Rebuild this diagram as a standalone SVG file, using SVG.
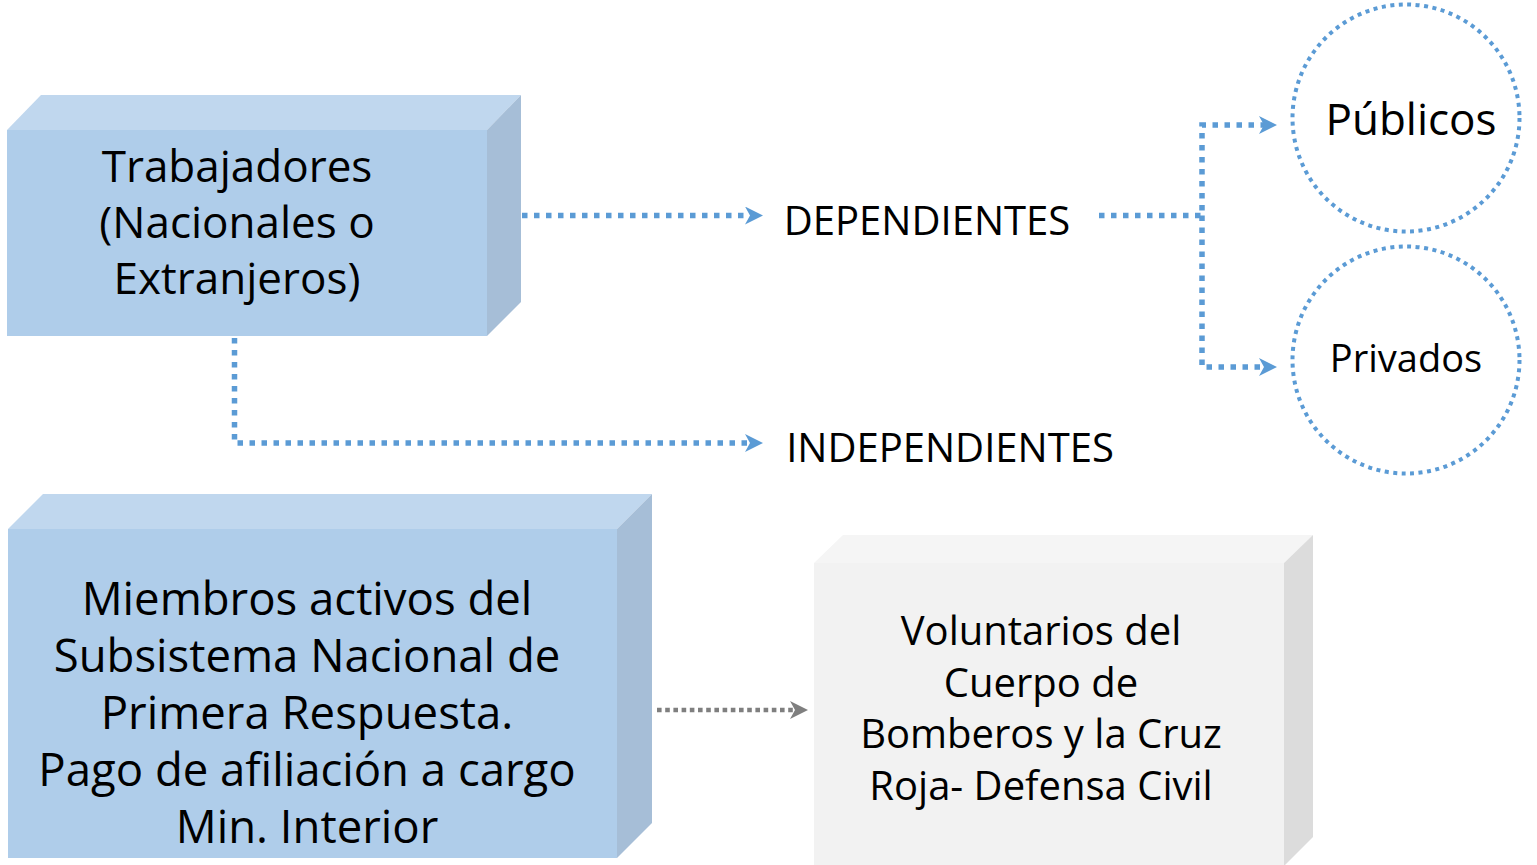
<svg xmlns="http://www.w3.org/2000/svg" width="1537" height="865" viewBox="0 0 1537 865">
<style>
.t{font-family:"Open Sans","Noto Sans","DejaVu Sans",sans-serif;fill:#000;text-anchor:middle}
.front{fill:#AFCDEA}.top{fill:#C0D7EE}.side{fill:#A6BED7}
.gfront{fill:#F2F2F2}.gtop{fill:#F5F5F5}.gside{fill:#DCDCDC}
.blue{fill:none;stroke:#5B9BD5;stroke-width:5.5;stroke-dasharray:5.5 6.5}
.gray{fill:none;stroke:#7F7F7F;stroke-width:4.6;stroke-dasharray:4.6 3.6}
.circ{fill:none;stroke:#5B9BD5;stroke-width:4;stroke-dasharray:4 4.5}
</style>
<defs>
<marker id="ab" markerUnits="userSpaceOnUse" markerWidth="20" markerHeight="20" refX="5" refY="9" orient="auto">
<path d="M0,0 L18,9 L0,18 L5,9 Z" fill="#5B9BD5"/>
</marker>
<marker id="ag" markerUnits="userSpaceOnUse" markerWidth="20" markerHeight="20" refX="5" refY="9" orient="auto">
<path d="M0,0 L18,9 L0,18 L5,9 Z" fill="#7F7F7F"/>
</marker>
</defs>
<rect width="1537" height="865" fill="#FFFFFF"/>
<g id="connectors">
<path class="blue" d="M522,215.5 H750" marker-end="url(#ab)"/>
<path class="blue" d="M1099,215.5 H1202 V125 H1264" marker-end="url(#ab)"/>
<path class="blue" d="M1202,215.5 V367 H1264" marker-end="url(#ab)"/>
<path class="blue" d="M234.5,338 V443 H750" marker-end="url(#ab)"/>
<path class="gray" d="M657,710 H795" marker-end="url(#ag)"/>
</g>
<g id="trabajadores">
<polygon class="top" points="7,130 41,95 521,95 487,130"/>
<polygon class="side" points="487,130 521,95 521,302 487,336"/>
<rect class="front" x="7" y="130" width="480" height="206"/>
<text class="t" font-size="44" x="237" y="182">Trabajadores</text>
<text class="t" font-size="44" x="237" y="238">(Nacionales o</text>
<text class="t" font-size="44" x="237" y="294">Extranjeros)</text>
</g>
<g id="dependientes">
<text class="t" font-size="40" x="927" y="235">DEPENDIENTES</text>
</g>
<g id="independientes">
<text class="t" font-size="40" x="950" y="462">INDEPENDIENTES</text>
</g>
<g id="publicos">
<circle class="circ" cx="1406" cy="118" r="113.5"/>
<text class="t" font-size="44" x="1411" y="135">Públicos</text>
</g>
<g id="privados">
<circle class="circ" cx="1406" cy="360" r="113.5"/>
<text class="t" font-size="38" x="1406" y="372">Privados</text>
</g>
<g id="miembros">
<polygon class="top" points="8,529 43,494 652,494 617,529"/>
<polygon class="side" points="617,529 652,494 652,823 617,858"/>
<rect class="front" x="8" y="529" width="609" height="329"/>
<text class="t" font-size="45.5" x="307" y="615">Miembros activos del</text>
<text class="t" font-size="45.5" x="307" y="672">Subsistema Nacional de</text>
<text class="t" font-size="45.5" x="307" y="729">Primera Respuesta.</text>
<text class="t" font-size="45.5" x="307" y="786">Pago de afiliación a cargo</text>
<text class="t" font-size="45.5" x="307" y="843">Min. Interior</text>
</g>
<g id="voluntarios">
<polygon class="gtop" points="814,563 843,535 1313,535 1284,563"/>
<polygon class="gside" points="1284,563 1313,535 1313,837 1284,866"/>
<rect class="gfront" x="814" y="563" width="470" height="303"/>
<text class="t" font-size="40" x="1041" y="645">Voluntarios del</text>
<text class="t" font-size="40" x="1041" y="697">Cuerpo de</text>
<text class="t" font-size="40" x="1041" y="748">Bomberos y la Cruz</text>
<text class="t" font-size="40" x="1041" y="800">Roja- Defensa Civil</text>
</g>
</svg>
